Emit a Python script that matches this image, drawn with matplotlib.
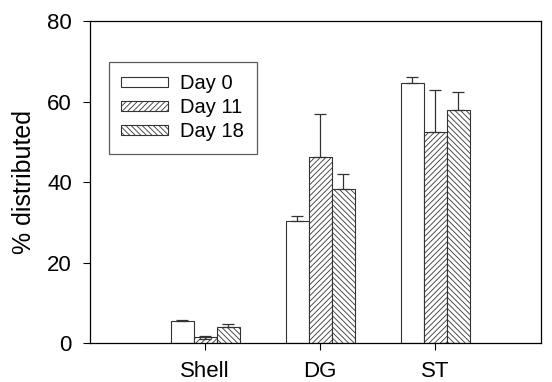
import numpy as np
import matplotlib
matplotlib.use('Agg')
import matplotlib.pyplot as plt

plt.rcParams['font.family'] = ['Liberation Sans', 'DejaVu Sans']
plt.rcParams['hatch.linewidth'] = 0.6

categories = ['Shell', 'DG', 'ST']
series = ['Day 0', 'Day 11', 'Day 18']
day0 = [5.5, 30.2, 64.5]
day11 = [1.4, 46.3, 52.5]
day18 = [3.9, 38.2, 57.8]
day0_err = [0.3, 1.3, 1.7]
day11_err = [0.3, 10.7, 10.3]
day18_err = [0.9, 3.8, 4.5]

values = [day0, day11, day18]
errors = [day0_err, day11_err, day18_err]
hatches = ['', '//////', '\\\\\\\\\\\\']

fig = plt.figure(figsize=(5.52, 3.82), dpi=100)
ax = fig.add_axes([0.163, 0.102, 0.817, 0.843])

x = np.arange(1, len(categories) + 1)
width = 0.2
for i in range(3):
    pos = x + (i - 1) * width
    ax.bar(pos, values[i], width, color='white', edgecolor='#333333',
           linewidth=0.8, hatch=hatches[i], label=series[i])
    # only the small Shell Day 11 bar shows its lower whisker
    lower = [0] * 3
    if i == 1:
        lower[0] = errors[i][0]
    ax.errorbar(pos, values[i], yerr=[lower, errors[i]], fmt='none',
                ecolor='#333333', elinewidth=0.9, capsize=4, capthick=0.9)

ax.set_xlim(0, 3.92)
ax.set_ylim(0, 80)
ax.set_xticks(x)
ax.set_xticklabels(categories)
ax.set_yticks([0, 20, 40, 60, 80])
ax.tick_params(labelsize=16, direction='out', length=5, width=0.8)
ax.tick_params(axis='x', pad=8)
ax.tick_params(axis='y', pad=8)
ax.set_ylabel('% distributed', fontsize=18, labelpad=8)
for s in ax.spines.values():
    s.set_linewidth(0.9)

leg = ax.legend(loc='upper left', bbox_to_anchor=(0.042, 0.873), fontsize=14.5,
                frameon=True, fancybox=False, edgecolor='#333333',
                handlelength=2.33, handleheight=0.35, labelspacing=0.25,
                borderpad=0.62, handletextpad=0.6, borderaxespad=0)
leg.get_frame().set_linewidth(0.9)

plt.savefig('out.png', dpi=100)
